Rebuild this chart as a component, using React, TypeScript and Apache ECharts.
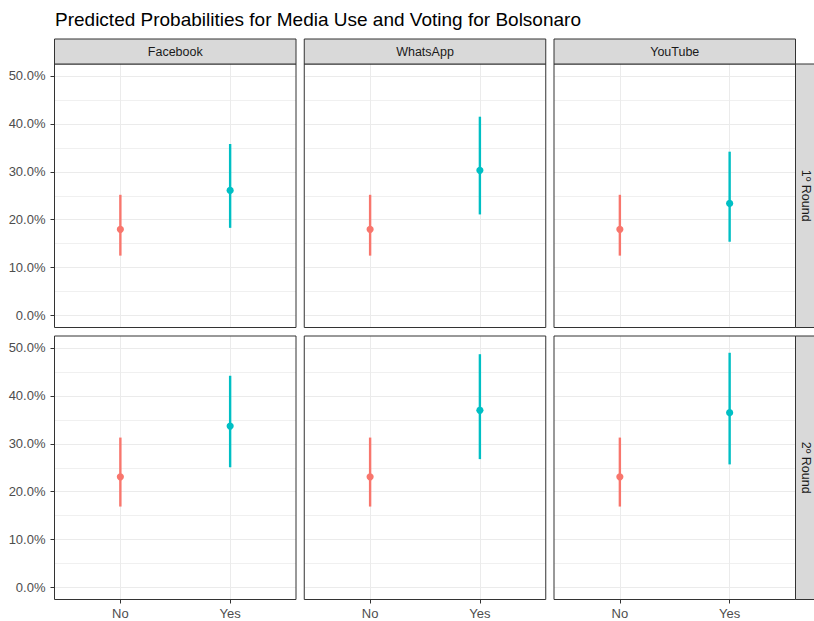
import React, { useEffect, useRef } from 'react';
import * as echarts from 'echarts';

// ---------- data ----------
const categories = ['No', 'Yes'];
const media = ['Facebook', 'WhatsApp', 'YouTube'];
const rounds = ['1º Round', '2º Round'];
const groupColors = ['#F8766D', '#00BFC4'];

// values in percent, one [No, Yes] pair per media (Facebook, WhatsApp, YouTube)
const round1Estimate = [[18.0, 26.1], [18.0, 30.3], [18.0, 23.4]];
const round1Lower = [[12.5, 18.3], [12.5, 21.1], [12.5, 15.4]];
const round1Upper = [[25.2, 35.8], [25.2, 41.5], [25.2, 34.2]];
const round2Estimate = [[23.1, 33.7], [23.1, 37.0], [23.1, 36.5]];
const round2Lower = [[16.9, 25.1], [16.9, 26.8], [16.9, 25.7]];
const round2Upper = [[31.3, 44.2], [31.3, 48.7], [31.3, 49.0]];

const estimates = [round1Estimate, round2Estimate];
const lowers = [round1Lower, round2Lower];
const uppers = [round1Upper, round2Upper];

// ---------- layout ----------
const FONT = '"Liberation Sans", Arial, Helvetica, sans-serif';
const PANEL_LEFT = 54.5;
const COL_STEP = 249.75;
const PANEL_W = 241.5;
const PANEL_TOP = [64, 336];
const PANEL_H = 263.5;
const STRIP_H = 25;
const Y_MIN = 0;
const Y_MAX = 50;
const Y_LO = -2.5;
const Y_HI = 52.5;
const X_EXPAND = 0.6;

export default function App() {
  const ref = useRef<HTMLDivElement>(null);

  useEffect(() => {
    if (!ref.current) return;
    const chart = echarts.init(ref.current, undefined, { renderer: 'svg' });

    const grids: any[] = [];
    const xAxes: any[] = [];
    const yAxes: any[] = [];
    const series: any[] = [];
    const graphics: any[] = [];

    for (let r = 0; r < rounds.length; r++) {
      for (let c = 0; c < media.length; c++) {
        const k = r * media.length + c;
        const left = PANEL_LEFT + c * COL_STEP;
        const top = PANEL_TOP[r];
        const yScale = PANEL_H / (Y_HI - Y_LO);
        // Grid A: horizontal gridlines + y labels (0..50)
        grids.push({
          left,
          top: top + (Y_HI - Y_MAX) * yScale,
          width: PANEL_W,
          height: (Y_MAX - Y_MIN) * yScale,
          containLabel: false,
        });
        xAxes.push({
          gridIndex: 2 * k,
          type: 'value',
          min: 0,
          max: 1,
          show: false,
        });
        yAxes.push({
          gridIndex: 2 * k,
          type: 'value',
          min: Y_MIN,
          max: Y_MAX,
          interval: 10,
          axisLine: { show: false },
          axisTick: {
            show: c === 0,
            length: 4,
            lineStyle: { color: '#333333', width: 1 },
          },
          axisLabel: {
            show: c === 0,
            margin: 9,
            color: '#4D4D4D',
            fontSize: 13,
            fontFamily: FONT,
            formatter: (v: number) => v.toFixed(1) + '%',
          },
          splitLine: { show: true, lineStyle: { color: '#EBEBEB', width: 1 } },
          minorTick: { show: false, splitNumber: 2 },
          minorSplitLine: { show: true, lineStyle: { color: '#F0F0F0', width: 1 } },
        });

        // Grid B: category axis spanning No..Yes, full panel height
        const unit = PANEL_W / (categories.length - 1 + 2 * X_EXPAND);
        grids.push({
          left: left + X_EXPAND * unit,
          top,
          width: unit * (categories.length - 1),
          height: PANEL_H,
          containLabel: false,
        });
        xAxes.push({
          gridIndex: 2 * k + 1,
          type: 'category',
          data: categories,
          boundaryGap: false,
          position: 'bottom',
          axisLine: { show: false, onZero: false },
          axisTick: {
            show: r === rounds.length - 1,
            length: 4,
            lineStyle: { color: '#333333', width: 1 },
          },
          axisLabel: {
            show: r === rounds.length - 1,
            margin: 7,
            color: '#4D4D4D',
            fontSize: 13,
            fontFamily: FONT,
          },
          splitLine: { show: true, lineStyle: { color: '#EBEBEB', width: 1 } },
        });
        yAxes.push({
          gridIndex: 2 * k + 1,
          type: 'value',
          min: Y_LO,
          max: Y_HI,
          show: false,
          splitLine: { show: false },
        });

        const data = categories.map((_, i) => [
          i,
          estimates[r][c][i],
          lowers[r][c][i],
          uppers[r][c][i],
        ]);
        series.push({
          type: 'custom',
          xAxisIndex: 2 * k + 1,
          yAxisIndex: 2 * k + 1,
          clip: false,
          z: 10,
          encode: { x: 0, y: [1, 2, 3] },
          data,
          renderItem: (params: any, api: any) => {
            const xi = api.value(0);
            const est = api.coord([xi, api.value(1)]);
            const lo = api.coord([xi, api.value(2)]);
            const hi = api.coord([xi, api.value(3)]);
            const col = groupColors[params.dataIndex];
            return {
              type: 'group',
              children: [
                {
                  type: 'line',
                  shape: { x1: lo[0], y1: lo[1], x2: hi[0], y2: hi[1] },
                  style: { stroke: col, lineWidth: 2.4 },
                },
                {
                  type: 'circle',
                  shape: { cx: est[0], cy: est[1], r: 3.6 },
                  style: { fill: col },
                },
              ],
            };
          },
        });

        // panel border
        graphics.push({
          type: 'rect',
          z: 100,
          shape: { x: left, y: top, width: PANEL_W, height: PANEL_H },
          style: { fill: 'none', stroke: '#333333', lineWidth: 1 },
        });
      }
    }

    // top strips
    for (let c = 0; c < media.length; c++) {
      const left = PANEL_LEFT + c * COL_STEP;
      graphics.push({
        type: 'rect',
        z: 100,
        shape: { x: left, y: PANEL_TOP[0] - STRIP_H, width: PANEL_W, height: STRIP_H },
        style: { fill: '#D9D9D9', stroke: '#333333', lineWidth: 1 },
      });
      graphics.push({
        type: 'text',
        z: 101,
        x: left + PANEL_W / 2,
        y: PANEL_TOP[0] - STRIP_H / 2,
        style: {
          text: media[c],
          x: 0,
          y: 0,
          fill: '#1A1A1A',
          font: `12.5px ${FONT}`,
          align: 'center',
          verticalAlign: 'middle',
          textAlign: 'center',
          textVerticalAlign: 'middle',
        },
      });
    }

    // right strips
    const stripX = PANEL_LEFT + 2 * COL_STEP + PANEL_W;
    for (let r = 0; r < rounds.length; r++) {
      graphics.push({
        type: 'rect',
        z: 100,
        shape: { x: stripX, y: PANEL_TOP[r], width: STRIP_H, height: PANEL_H },
        style: { fill: '#D9D9D9', stroke: '#333333', lineWidth: 1 },
      });
      graphics.push({
        type: 'text',
        z: 101,
        x: stripX + 10.5,
        y: PANEL_TOP[r] + PANEL_H / 2,
        rotation: -Math.PI / 2,
        style: {
          text: rounds[r],
          x: 0,
          y: 0,
          fill: '#1A1A1A',
          font: `12.5px ${FONT}`,
          align: 'center',
          verticalAlign: 'middle',
          textAlign: 'center',
          textVerticalAlign: 'middle',
        },
      });
    }

    chart.setOption({
      animation: false,
      backgroundColor: '#FFFFFF',
      title: {
        text: 'Predicted Probabilities for Media Use and Voting for Bolsonaro',
        left: 55,
        top: 10,
        padding: 0,
        textStyle: {
          fontSize: 19,
          fontWeight: 'normal',
          color: '#000000',
          fontFamily: FONT,
        },
      },
      grid: grids,
      xAxis: xAxes,
      yAxis: yAxes,
      series,
      graphic: graphics,
    });

    return () => chart.dispose();
  }, []);

  return (
    <div
      ref={ref}
      style={{ position: 'absolute', left: 0, top: 0, width: 814, height: 621 }}
    />
  );
}
